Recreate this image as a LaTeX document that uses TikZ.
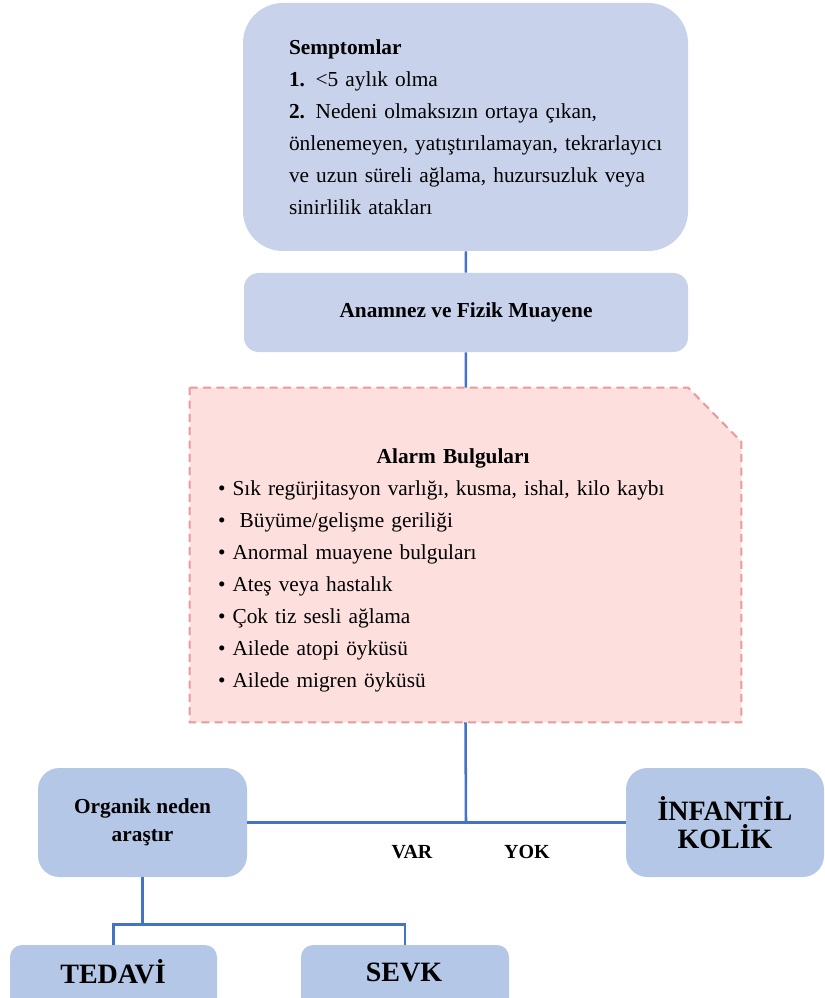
\documentclass[tikz,border=0pt]{standalone}
\usepackage{fontspec}
\setmainfont{Liberation Serif}
\usetikzlibrary{positioning, calc}
\definecolor{paleblue}{HTML}{C8D3EB}
\definecolor{boxblue}{HTML}{B4C7E7}
\definecolor{alarmfill}{HTML}{FDE0DE}
\definecolor{alarmedge}{HTML}{E99A9B}
\definecolor{linkblue}{HTML}{4472C4}

\begin{document}
\begin{tikzpicture}[
        x=0.75pt, y=-0.75pt,
        softbox/.style={
            rectangle,
            fill=paleblue,
            draw=none,
            inner sep=0pt
        },
        bluebox/.style={
            rectangle,
            fill=boxblue,
            draw=none,
            inner sep=0pt,
            rounded corners=16pt,
            minimum width=156.75pt,
            minimum height=81.75pt,
            align=center,
            font=\bfseries\fontsize{16}{21}\selectfont
        },
        alarmedge/.style={
            fill=alarmfill,
            draw=alarmedge,
            line width=1.5pt,
            dash pattern=on 6pt off 4pt
        },
        bodytext/.style={align=left, inner sep=0pt, font=\fontsize{16}{24}\selectfont},
        bigtext/.style={inner sep=0pt, font=\bfseries\fontsize{21}{22}\selectfont},
        link/.style={draw=linkblue, line width=1.9pt}
    ]

    \useasboundingbox (0,0) rectangle (824,998);
    \clip (0,0) rectangle (824,998);

    % --- TOP BOXES ---
    \node (sympt) [softbox, rounded corners=30pt, minimum width=333.75pt, minimum height=186pt] at (465.5,127) {};
    \node (symtext) [bodytext, text width=289.5pt] at (482,127) {
        \textbf{Semptomlar}\\
        \textbf{1.} <5 aylık olma\\
        \textbf{2.} Nedeni olmaksızın ortaya çıkan,\\
        önlenemeyen, yatıştırılamayan, tekrarlayıcı\\
        ve uzun süreli ağlama, huzursuzluk veya\\
        sinirlilik atakları
    };

    \node (anam) [softbox, rounded corners=11pt, minimum width=333pt, minimum height=59.25pt,
        font=\bfseries\fontsize{16}{24}\selectfont] at (466,312.5) {Anamnez ve Fizik Muayene};

    % --- ALARM ---
    \node (alarm) [rectangle, inner sep=0pt, minimum width=413.25pt, minimum height=250.5pt] at (465.5,555) {};
    \draw [alarmedge] (alarm.north west) -- ($(alarm.north east)+(-53,0)$)
        -- ($(alarm.north east)+(0,54)$) -- (alarm.south east) -- (alarm.south west) -- cycle;
    \node (alarmtext) [bodytext, text width=345pt] at (448,570) {
        \hspace*{119pt}\textbf{Alarm Bulguları}\\
        • Sık regürjitasyon varlığı, kusma, ishal, kilo kaybı\\
        •\ \ Büyüme/gelişme geriliği\\
        • Anormal muayene bulguları\\
        • Ateş veya hastalık\\
        • Çok tiz sesli ağlama\\
        • Ailede atopi öyküsü\\
        • Ailede migren öyküsü
    };

    % --- DECISION ---
    \node (organik) [bluebox] at (142.5,822.5) {Organik neden\\araştır};
    \node (infant) [bluebox, minimum width=148.5pt, font=\bfseries\fontsize{21}{21}\selectfont] at (725,822.5) {İNFANTİL\\KOLİK};
    \node (var) [inner sep=0pt, font=\bfseries\fontsize{15}{18}\selectfont] at (412,852) {VAR};
    \node (yok) [inner sep=0pt, font=\bfseries\fontsize{15}{18}\selectfont] at (527,852) {YOK};

    % --- BOTTOM ---
    \node (tedbox) [softbox, fill=boxblue, rounded corners=9pt, minimum width=155.25pt, minimum height=60pt] at (113.5,985) {};
    \node (sevkbox) [softbox, fill=boxblue, rounded corners=9pt, minimum width=156pt, minimum height=60pt] at (405,985) {};
    \node (tedavi) [bigtext] at (113,972) {TEDAVİ};
    \node (sevk) [bigtext] at (404,972) {SEVK};

    % --- LINKS ---
    \coordinate (join) at (466,822.5);
    \draw [link] (sympt) -- (anam);
    \draw [link] (anam) -- (alarm);
    \draw [link] (alarm.south) -- (join);
    \draw [link] (organik.east) -- (infant.west);
    \draw [link] (organik.south) -- ++(0,47) coordinate (split);
    \draw [link] (tedbox.north) |- (split) -| (sevkbox.north);

\end{tikzpicture}
\end{document}
